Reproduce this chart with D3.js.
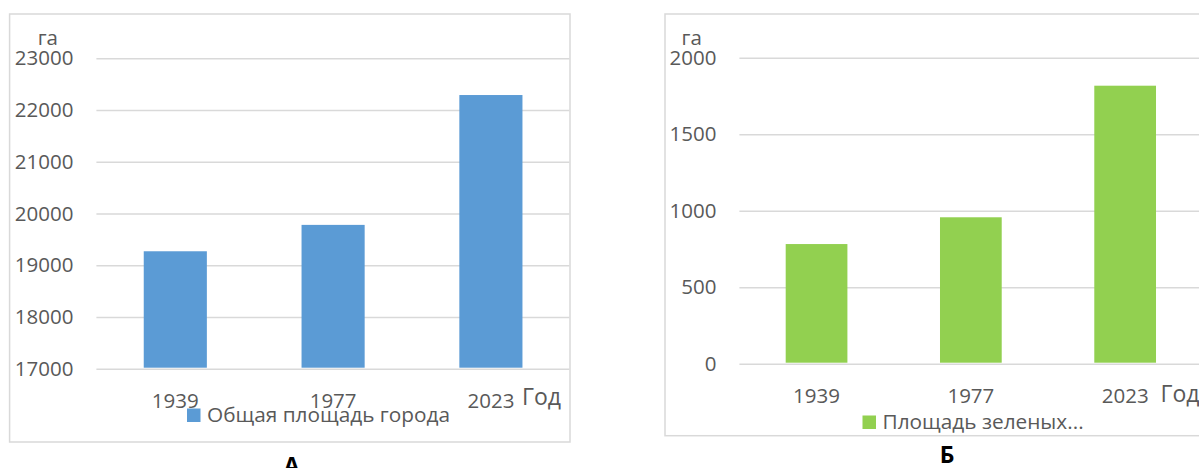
<!DOCTYPE html>
<html>
<head>
<meta charset="utf-8">
<script src="https://cdn.jsdelivr.net/npm/d3@7"></script>
<style>
  html, body { margin: 0; padding: 0; background: #ffffff; }
  svg { display: block; }
  text { font-family: "Open Sans", "Noto Sans", sans-serif; }
</style>
</head>
<body>
<svg id="chart" width="1199" height="468"></svg>
<script>
// ---- data ----
const years = ["1939", "1977", "2023"];
const totalArea = [19270, 19780, 22290];
const greenArea = [782, 957, 1817];
const totalTicks = [17000, 18000, 19000, 20000, 21000, 22000, 23000];
const greenTicks = [0, 500, 1000, 1500, 2000];
const unitLabel = "га";
const xAxisLabel = "Год";
const legendTotal = "Общая площадь города";
const legendGreen = "Площадь зеленых...";
const titleA = "А";
const titleB = "Б";

// ---- styling ----
const textColor = "#595959";
const gridColor = "#D9D9D9";
const fontSize = 20.5;

const svg = d3.select("#chart");

function drawChart(cfg) {
  const g = svg.append("g");
  // frame
  g.append("rect")
    .attr("x", cfg.frame[0]).attr("y", cfg.frame[1])
    .attr("width", cfg.frame[2]).attr("height", cfg.frame[3])
    .attr("fill", "#ffffff").attr("stroke", gridColor).attr("stroke-width", 1.5);

  const x = d3.scaleBand()
    .domain(cfg.categories)
    .range([cfg.plotX0, cfg.plotX1])
    .paddingInner(0.6).paddingOuter(0.3);
  const y = d3.scaleLinear().domain(cfg.domain).range([cfg.yBottom, cfg.yTop]);

  // y axis with gridlines
  const yAxis = d3.axisLeft(y)
    .tickValues(cfg.ticks)
    .tickFormat(d3.format("d"))
    .tickSize(-(cfg.gridX1 - cfg.plotX0))
    .tickPadding(23);
  const ya = g.append("g")
    .attr("transform", `translate(${cfg.plotX0},0)`)
    .call(yAxis);
  ya.select(".domain").remove();
  ya.selectAll(".tick line").attr("stroke", gridColor).attr("stroke-width", 1.5);
  ya.selectAll(".tick text")
    .attr("fill", textColor)
    .attr("font-size", fontSize)
    .attr("font-family", "'Open Sans', 'Noto Sans', sans-serif");

  // bars
  g.selectAll("rect.bar")
    .data(cfg.values)
    .join("rect")
    .attr("class", "bar")
    .attr("x", (d, i) => x(cfg.categories[i]))
    .attr("width", x.bandwidth())
    .attr("y", d => y(d))
    .attr("height", d => y(cfg.domain[0]) - y(d) - 1)
    .attr("fill", cfg.color);

  // x axis labels
  const xAxis = d3.axisBottom(x).tickSize(0).tickPadding(0);
  const xa = g.append("g")
    .attr("transform", `translate(0,${cfg.yBottom})`)
    .call(xAxis);
  xa.select(".domain").remove();
  xa.selectAll(".tick text")
    .attr("y", 39.5).attr("dy", 0)
    .attr("fill", textColor)
    .attr("font-size", fontSize)
    .attr("font-family", "'Open Sans', 'Noto Sans', sans-serif");

  // unit label
  g.append("text")
    .attr("x", cfg.unitX).attr("y", 45)
    .attr("text-anchor", "middle")
    .attr("fill", textColor).attr("font-size", fontSize)
    .text(unitLabel);

  // x axis title
  g.append("text")
    .attr("x", cfg.godX).attr("y", cfg.godY)
    .attr("fill", textColor).attr("font-size", 23)
    .text(xAxisLabel);

  // legend
  g.append("rect")
    .attr("x", cfg.legX).attr("y", cfg.legY - 6.5)
    .attr("width", 13.5).attr("height", 13.5)
    .attr("fill", cfg.color);
  g.append("text")
    .attr("x", cfg.legX + 20).attr("y", cfg.legY)
    .attr("dy", "0.35em")
    .attr("fill", textColor).attr("font-size", 20.8)
    .text(cfg.legend);

  // panel title
  svg.append("text")
    .attr("x", cfg.titleX).attr("y", cfg.titleY)
    .attr("text-anchor", "middle")
    .attr("fill", "#000000").attr("font-size", 23).attr("font-weight", "bold")
    .text(cfg.title);
}

drawChart({
  frame: [9.6, 14, 560.4, 428],
  categories: years, values: totalArea, ticks: totalTicks,
  domain: [17000, 23000], yBottom: 368.7, yTop: 58.3,
  plotX0: 96.4, plotX1: 569.8, gridX1: 569.5,
  color: "#5B9BD5",
  unitX: 47.8, godX: 522, godY: 405,
  legX: 187, legY: 415, legend: legendTotal,
  title: titleA, titleX: 291.6, titleY: 474
});

drawChart({
  frame: [665, 14, 560, 421.7],
  categories: years, values: greenArea, ticks: greenTicks,
  domain: [0, 2000], yBottom: 363.7, yTop: 57.7,
  plotX0: 739.4, plotX1: 1202.3, gridX1: 1210,
  color: "#92D050",
  unitX: 691.7, godX: 1160.5, godY: 401.7,
  legX: 862.5, legY: 422, legend: legendGreen,
  title: titleB, titleX: 947, titleY: 463.3
});
</script>
</body>
</html>
